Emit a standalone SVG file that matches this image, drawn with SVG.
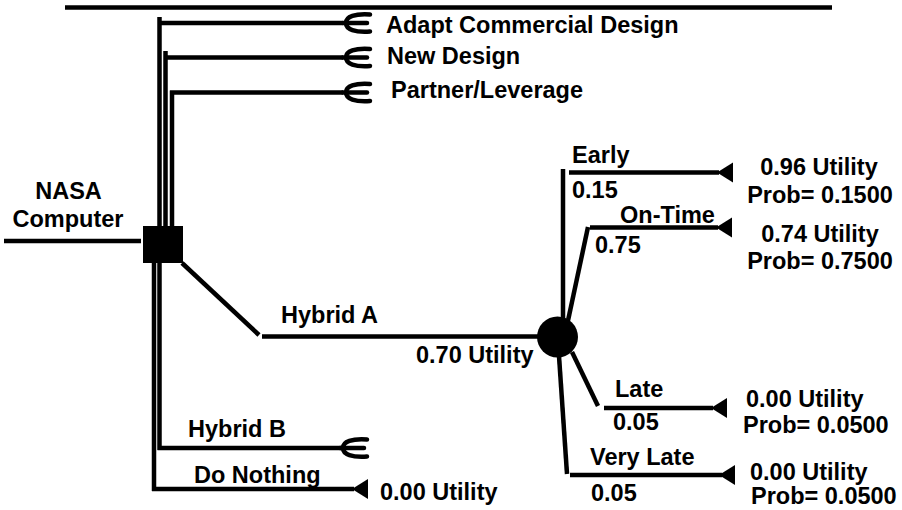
<svg xmlns="http://www.w3.org/2000/svg" xmlns:xlink="http://www.w3.org/1999/xlink" width="902" height="510" viewBox="0 0 902 510">
<style>
.ln{stroke:#000;stroke-width:4.5;fill:none;stroke-linecap:butt}
.fork{stroke:#000;stroke-width:4.5;fill:none;stroke-linecap:round}
text{font-family:"Liberation Sans",Arial,sans-serif;font-weight:bold;font-size:23.5px;fill:#000}
.m{text-anchor:middle}
</style>
<defs>
<path id="tri" d="M0,0 L16,-10 L16,10 Z" fill="#000"/>
<g id="fork">
<path class="fork" d="M27,-8.5 C12,-9.5 3,-6.5 3,0 C3,6.5 12,9.5 27,8.5"/>
<path class="fork" d="M0,0 H24"/>
</g>
</defs>
<rect width="902" height="510" fill="#fff"/>
<g id="connectors">
<path class="ln" d="M65,7.5 H832" stroke-width="5"/>
<path class="ln" d="M4,241 H141"/>
<path class="ln" d="M159.5,17 V226 M157.5,23 H343"/>
<path class="ln" d="M165.5,51 V226 M163.5,57.5 H343"/>
<path class="ln" d="M172,90.5 V226 M170,92.5 H343"/>
<path class="ln" d="M182,263 L259,335"/>
<path class="ln" d="M262,336.5 H540"/>
<path class="ln" d="M159.5,263 V450 M157.5,448 H341"/>
<path class="ln" d="M154,263 V491 M152,489 H354"/>
<path class="ln" d="M563,169 V320"/>
<path class="ln" d="M569,172.5 H719"/>
<path class="ln" d="M588,227 L566,330"/>
<path class="ln" d="M590,227.5 H718"/>
<path class="ln" d="M572,352 L598,406"/>
<path class="ln" d="M604,408 H713"/>
<path class="ln" d="M559,356 L567,474"/>
<path class="ln" d="M570,475 H722"/>
<use xlink:href="#fork" x="343" y="23"/>
<use xlink:href="#fork" x="343" y="57.5"/>
<use xlink:href="#fork" x="343" y="92.5"/>
<use xlink:href="#fork" x="340" y="448"/>
<use xlink:href="#tri" x="717" y="172.5"/>
<use xlink:href="#tri" x="716" y="227.5"/>
<use xlink:href="#tri" x="711" y="408"/>
<use xlink:href="#tri" x="719" y="475"/>
<use xlink:href="#tri" x="352" y="489"/>
</g>
<g id="root">
<text class="m" x="68.5" y="199">NASA</text>
<text class="m" x="68" y="227">Computer</text>
</g>
<g id="decision">
<rect x="143" y="226" width="40" height="37" fill="#000"/>
</g>
<g id="adapt"><text x="386" y="33">Adapt Commercial Design</text></g>
<g id="newdesign"><text x="387" y="64">New Design</text></g>
<g id="partner"><text x="391" y="98">Partner/Leverage</text></g>
<g id="hybridA">
<text x="281" y="323">Hybrid A</text>
<text x="416" y="363">0.70 Utility</text>
</g>
<g id="chance">
<circle cx="557.5" cy="337" r="20.5" fill="#000"/>
</g>
<g id="early">
<text x="572" y="163">Early</text>
<text x="572" y="198">0.15</text>
<text class="m" x="819" y="175">0.96 Utility</text>
<text class="m" x="820" y="203">Prob= 0.1500</text>
</g>
<g id="ontime">
<text x="620" y="223">On-Time</text>
<text x="595" y="253">0.75</text>
<text class="m" x="820" y="242">0.74 Utility</text>
<text class="m" x="820" y="269">Prob= 0.7500</text>
</g>
<g id="late">
<text x="615" y="397">Late</text>
<text x="613" y="430">0.05</text>
<text x="746" y="407">0.00 Utility</text>
<text x="743" y="433">Prob= 0.0500</text>
</g>
<g id="verylate">
<text x="590" y="465">Very Late</text>
<text x="591" y="501">0.05</text>
<text x="750" y="480">0.00 Utility</text>
<text x="751" y="504">Prob= 0.0500</text>
</g>
<g id="hybridB"><text x="188" y="437">Hybrid B</text></g>
<g id="donothing">
<text x="194" y="483">Do Nothing</text>
<text x="380" y="500">0.00 Utility</text>
</g>
</svg>
